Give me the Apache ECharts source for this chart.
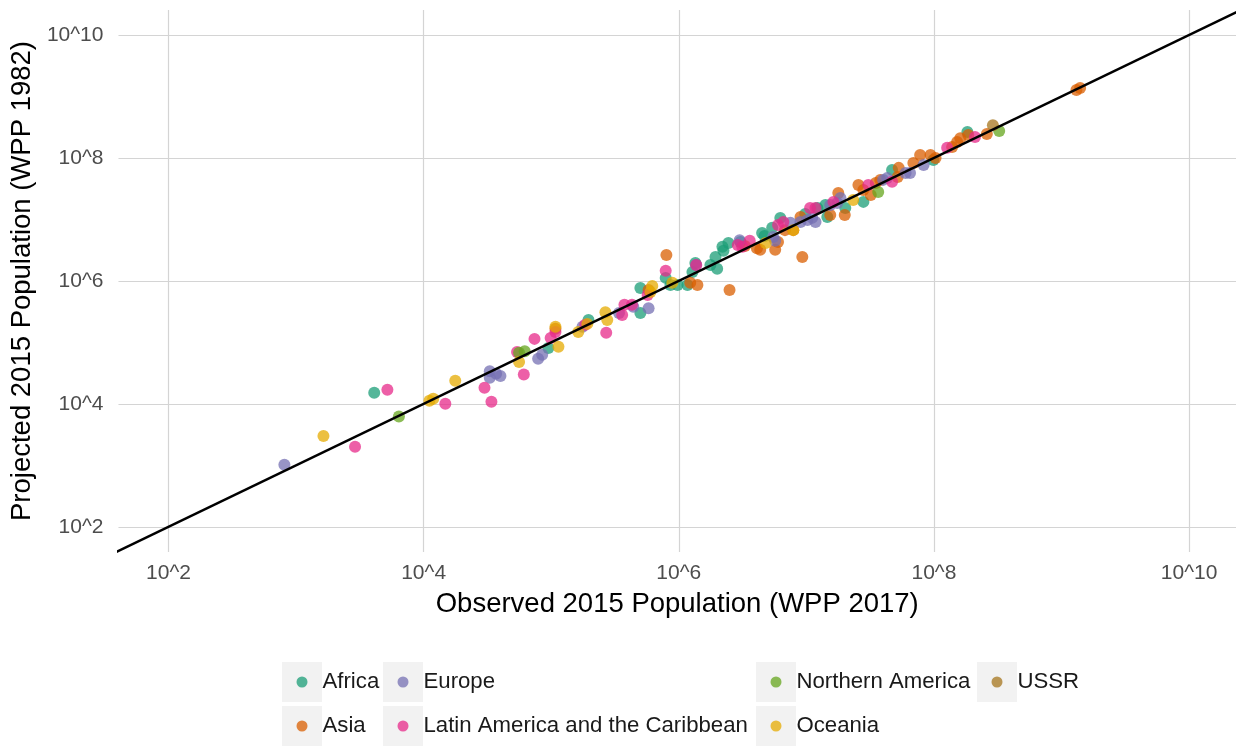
<!DOCTYPE html>
<html>
<head>
<meta charset="utf-8">
<script src="https://cdn.jsdelivr.net/npm/echarts@6/dist/echarts.min.js"></script>
<style>
  html, body { margin: 0; padding: 0; background: #ffffff; }
  #chart { width: 1236px; height: 746px; }
</style>
</head>
<body>
<div id="chart"></div>
<script>
// Regions and their Dark2 colours
const regions = ['Africa', 'Asia', 'Europe', 'Latin America and the Caribbean', 'Northern America', 'Oceania', 'USSR'];
const regionColors = ['#1B9E77', '#D95F02', '#7570B3', '#E7298A', '#66A61E', '#E6AB02', '#A6761D'];

// Each pair: [observed 2015 population (WPP 2017), projected 2015 population (WPP 1982)]
const africa = [
  [4.1e3, 1.51e4], [9.5e4, 8.1e4], [1.96e5, 2.32e5], [5.0e5, 7.7e5], [5.0e5, 3.0e5],
  [7.9e5, 1.12e6], [8.6e5, 8.6e5], [9.8e5, 8.6e5], [1.17e6, 8.6e5], [1.28e6, 1.40e6],
  [1.35e6, 1.96e6], [1.77e6, 1.82e6], [2.0e6, 1.57e6], [1.94e6, 2.45e6], [2.2e6, 3.6e6],
  [2.45e6, 4.15e6], [2.24e6, 3.1e6], [4.5e6, 6.0e6], [4.7e6, 5.4e6], [6.25e6, 1.06e7],
  [1.22e7, 1.54e7], [1.46e7, 1.10e7], [1.41e7, 1.72e7], [2.02e7, 1.54e7], [2.8e7, 1.93e7],
  [4.7e7, 6.4e7], [9.9e7, 9.3e7], [1.83e8, 2.65e8], [3.04e6, 4.3e6], [9.8e6, 1.23e7],
  [5.4e6, 7.3e6]
];
const asia = [
  [1.08e5, 1.66e5], [5.8e5, 7.1e5], [8.0e5, 2.65e6], [1.23e6, 9.3e5], [1.40e6, 8.6e5],
  [2.5e6, 7.1e5], [4.1e6, 3.4e6], [4.35e6, 3.2e6], [5.7e6, 3.2e6], [6.0e6, 4.3e6],
  [6.8e6, 6.7e6], [7.9e6, 6.7e6], [9.0e6, 1.10e7], [9.3e6, 2.45e6], [1.54e7, 1.18e7],
  [1.78e7, 2.7e7], [2.56e7, 3.64e7], [2.8e7, 3.0e7], [3.2e7, 2.5e7], [3.5e7, 3.9e7],
  [3.8e7, 4.4e7], [5.2e7, 4.9e7], [5.3e7, 6.9e7], [6.9e7, 8.3e7], [7.8e7, 1.12e8],
  [9.4e7, 1.12e8], [1.03e8, 1.0e8], [1.39e8, 1.51e8], [1.52e8, 1.82e8], [1.61e8, 2.1e8],
  [1.86e8, 2.37e8], [2.6e8, 2.45e8], [1.31e9, 1.28e9], [1.40e9, 1.37e9], [3.3e6, 3.7e6],
  [2.0e7, 1.18e7]
];
const europe = [
  [8.1e2, 1.02e3], [3.3e4, 3.4e4], [3.7e4, 3.1e4], [3.3e4, 2.65e4], [4.0e4, 2.85e4],
  [7.9e4, 5.4e4], [8.5e4, 6.3e4], [1.76e5, 1.79e5], [3.4e5, 3.0e5], [4.4e5, 3.8e5],
  [5.8e5, 3.6e5], [1.37e6, 1.82e6], [3.0e6, 4.6e6], [5.5e6, 5.2e6], [5.7e6, 4.5e6],
  [7.5e6, 8.8e6], [9.0e6, 9.1e6], [1.02e7, 9.8e6], [1.11e7, 1.06e7], [1.18e7, 9.1e6],
  [1.54e7, 1.72e7], [1.75e7, 1.85e7], [1.85e7, 2.24e7], [4.0e7, 4.4e7], [4.3e7, 4.7e7],
  [6.0e7, 5.7e7], [6.5e7, 5.7e7], [8.3e7, 7.7e7]
];
const latinAmerica = [
  [2.9e3, 2.0e3], [5.2e3, 1.69e4], [1.48e4, 1.0e4], [3.0e4, 1.82e4], [3.4e4, 1.08e4],
  [5.4e4, 7.0e4], [6.1e4, 3.0e4], [7.4e4, 1.14e5], [9.9e4, 1.18e5], [1.08e5, 1.48e5],
  [1.85e5, 1.93e5], [2.7e5, 1.43e5], [3.6e5, 2.8e5], [3.75e5, 4.1e5], [4.3e5, 4.1e5],
  [5.7e5, 5.9e5], [7.9e5, 1.46e6], [1.37e6, 1.82e6], [2.9e6, 3.85e6], [3.15e6, 3.6e6],
  [3.6e6, 4.5e6], [6.0e6, 8.1e6], [6.6e6, 9.1e6], [1.07e7, 1.54e7], [1.18e7, 1.54e7],
  [1.63e7, 1.93e7], [3.06e7, 3.64e7], [4.7e7, 4.1e7], [1.27e8, 1.46e8], [2.1e8, 2.19e8]
];
const northernAmerica = [
  [6.4e3, 6.2e3], [5.6e4, 6.8e4], [6.2e4, 7.2e4], [3.66e7, 2.8e7], [3.25e8, 2.75e8]
];
const oceania = [
  [1.64e3, 3.0e3], [1.11e4, 1.12e4], [1.19e4, 1.21e4], [1.77e4, 2.37e4], [5.6e4, 4.8e4],
  [1.08e5, 1.79e5], [1.14e5, 8.5e4], [1.63e5, 1.48e5], [1.92e5, 2.0e5], [2.66e5, 3.1e5],
  [2.75e5, 2.32e5], [6.0e5, 6.6e5], [6.2e5, 8.3e5], [8.9e5, 9.3e5], [4.8e6, 4.15e6],
  [7.9e6, 6.7e6], [2.33e7, 2.08e7]
];
const ussr = [
  [2.9e8, 3.4e8]
];
const regionData = [africa, asia, europe, latinAmerica, northernAmerica, oceania, ussr];

// Gridline / label positions on both axes
const tickValues = [1e2, 1e4, 1e6, 1e8, 1e10];
// Endpoints of the identity line y = x (clipped to the panel)
const identityLine = [[1e1, 1e1], [1e11, 1e11]];

const tickFormatter = v => '10^' + Math.round(Math.log10(v));
const fontFamily = 'Liberation Sans, Arial, sans-serif';

function logAxis(min, max, extra) {
  return Object.assign({
    type: 'log',
    logBase: 10,
    min: min,
    max: max,
    axisLine: { show: false },
    axisTick: { show: false, customValues: tickValues },
    splitLine: { show: true, lineStyle: { color: '#D4D4D4', width: 1.2 } },
    minorSplitLine: { show: false },
    nameLocation: 'middle',
    nameTextStyle: { color: '#000000', fontSize: 27.5, fontFamily: fontFamily }
  }, extra);
}

const scatterSeries = regions.map((name, i) => ({
  name: name,
  type: 'scatter',
  data: regionData[i],
  symbol: 'circle',
  symbolSize: 12,
  itemStyle: { color: regionColors[i], opacity: 0.75 },
  z: 2
}));

// Legend: four columns, two rows, filled column by column
const legendColumns = [
  ['Africa', 'Asia'],
  ['Europe', 'Latin America and the Caribbean'],
  ['Northern America', 'Oceania'],
  ['USSR']
];
const keyLefts = [282, 383, 756, 977];
const keyTops = [662, 706];
const keySize = 40;

const legends = legendColumns.map((names, c) => ({
  orient: 'vertical',
  left: keyLefts[c] + 14.5,
  top: keyTops[0] + 20 - 13,
  padding: 0,
  itemWidth: 11,
  itemHeight: 11,
  itemGap: 18,
  icon: 'circle',
  selectedMode: false,
  textStyle: {
    fontSize: 22.2,
    lineHeight: 26,
    color: '#1A1A1A',
    padding: [0, 0, 0, 10],
    fontFamily: fontFamily
  },
  data: names
}));

const keyBoxes = [];
legendColumns.forEach((names, c) => {
  names.forEach((n, r) => {
    keyBoxes.push({
      type: 'rect',
      left: keyLefts[c],
      top: keyTops[r],
      z: -10,
      shape: { width: keySize, height: keySize },
      style: { fill: '#F2F2F2' }
    });
  });
});

const chart = echarts.init(document.getElementById('chart'), null, { renderer: 'canvas' });
chart.setOption({
  animation: false,
  backgroundColor: '#ffffff',
  grid: { left: 118, right: 0, top: 10, bottom: 194, containLabel: false },
  xAxis: logAxis(Math.pow(10, 1.608), Math.pow(10, 10.368), {
    name: 'Observed 2015 Population (WPP 2017)',
    nameGap: 38,
    axisLabel: {
      customValues: tickValues, formatter: tickFormatter, color: '#4D4D4D', fontSize: 21,
      margin: 11, fontFamily: fontFamily
    }
  }),
  yAxis: logAxis(Math.pow(10, 1.59), Math.pow(10, 10.407), {
    name: 'Projected 2015 Population (WPP 1982)',
    nameGap: 80,
    axisLabel: {
      customValues: tickValues, formatter: tickFormatter, color: '#4D4D4D', fontSize: 21,
      margin: 15, fontFamily: fontFamily
    }
  }),
  legend: legends,
  graphic: keyBoxes,
  series: scatterSeries.concat([{
    name: 'identity',
    type: 'line',
    data: identityLine,
    symbol: 'none',
    clip: true,
    silent: true,
    lineStyle: { color: '#000000', width: 2.3 },
    z: 5
  }])
});
</script>
</body>
</html>
